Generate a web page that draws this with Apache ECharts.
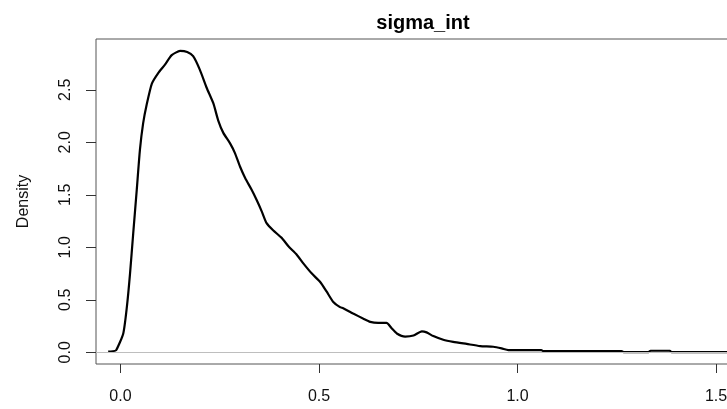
<!DOCTYPE html>
<html>
<head>
<meta charset="utf-8">
<script src="https://cdn.jsdelivr.net/npm/echarts@6/dist/echarts.min.js"></script>
<style>html,body{margin:0;padding:0;background:#fff}#c{width:727px;height:409px}</style>
</head>
<body>
<div id="c"></div>
<script>
var title = "sigma_int";
var yName = "Density";
var xTicks = [0, 0.5, 1.0, 1.5];
var yTicks = [0, 0.5, 1.0, 1.5, 2.0, 2.5];
var xs = [-0.031,-0.02,-0.011,0.007,0.016,0.024,0.032,0.041,0.049,0.057,0.066,0.079,0.095,0.112,0.129,0.150,0.168,0.183,0.200,0.217,0.234,0.246,0.259,0.276,0.288,0.301,0.314,0.330,0.343,0.356,0.368,0.385,0.406,0.423,0.444,0.460,0.482,0.503,0.519,0.536,0.553,0.561,0.586,0.612,0.629,0.649,0.670,0.683,0.696,0.717,0.738,0.759,0.771,0.788,0.813,0.838,0.872,0.906,0.939,0.960,0.977,1.006,1.031,1.060,1.065,1.262,1.267,1.330,1.335,1.384,1.388,1.57];
var ys = [0.006,0.01,0.02,0.18,0.43,0.75,1.13,1.55,1.93,2.18,2.36,2.56,2.66,2.74,2.83,2.87,2.86,2.82,2.69,2.52,2.37,2.21,2.09,1.99,1.90,1.77,1.66,1.55,1.45,1.34,1.23,1.16,1.09,1.01,0.93,0.85,0.75,0.67,0.58,0.48,0.43,0.42,0.37,0.32,0.29,0.28,0.28,0.23,0.18,0.15,0.16,0.20,0.19,0.155,0.12,0.10,0.08,0.06,0.053,0.038,0.022,0.022,0.022,0.022,0.012,0.012,0.003,0.003,0.015,0.015,0.003,0.003];

var pts = xs.map(function (x, i) { return [x, ys[i]]; });
function fmt(v) { return v.toFixed(1); }
var font = "Liberation Sans, Arial, sans-serif";
var chart = echarts.init(document.getElementById('c'), null, {renderer: 'canvas'});
chart.setOption({
  animation: false,
  backgroundColor: '#ffffff',
  title: {
    text: title, left: 418, top: 8, textAlign: 'center',
    textStyle: {fontFamily: font, fontSize: 20, fontWeight: 'bold', color: '#000'}
  },
  grid: {left: 96, top: 39, right: -17, bottom: 45, outerBoundsMode: 'none', containLabel: false,
         show: true, borderColor: '#555', borderWidth: 1, backgroundColor: 'transparent'},
  xAxis: {
    type: 'value', min: -0.0617, max: 1.5705,
    axisLine: {show: false, onZero: false},
    splitLine: {show: false},
    axisTick: {show: true, length: 9, inside: false, customValues: xTicks, lineStyle: {color: '#333'}},
    axisLabel: {customValues: xTicks, formatter: fmt, margin: 25, fontFamily: font, fontSize: 16, color: '#111'}
  },
  yAxis: {
    type: 'value', min: -0.111, max: 2.984,
    name: yName, nameLocation: 'middle', nameGap: 64, nameRotate: 90,
    nameTextStyle: {fontFamily: font, fontSize: 16, color: '#111'},
    axisLine: {show: false, onZero: false},
    splitLine: {show: false},
    axisTick: {show: true, length: 10, inside: false, customValues: yTicks, lineStyle: {color: '#333'}},
    axisLabel: {customValues: yTicks, formatter: fmt, rotate: 90, margin: 22, fontFamily: font, fontSize: 16, color: '#111'}
  },
  series: [{
    type: 'line', data: pts, showSymbol: false, smooth: 0.2,
    lineStyle: {color: '#000', width: 2.2},
    markLine: {
      silent: true, symbol: ['none', 'none'], label: {show: false},
      lineStyle: {color: '#bebebe', width: 1, type: 'solid'},
      data: [{yAxis: 0}]
    },
    z: 3
  }]
});
</script>
</body>
</html>
